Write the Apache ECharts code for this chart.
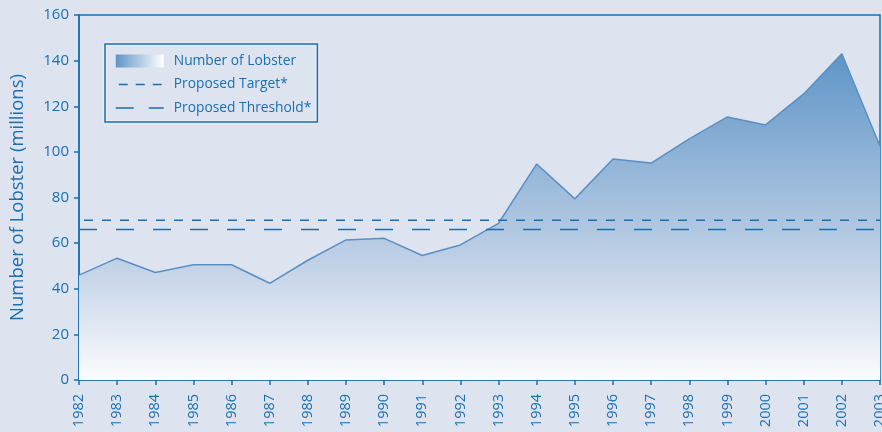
<!DOCTYPE html>
<html>
<head>
<meta charset="utf-8">
<script src="https://cdn.jsdelivr.net/npm/echarts@6/dist/echarts.min.js"></script>
<style>
  html, body { margin: 0; padding: 0; background: #dde4f0; }
  #chart { width: 882px; height: 432px; }
</style>
</head>
<body>
<div id="chart"></div>
<script>
var years = ['1982', '1983', '1984', '1985', '1986', '1987', '1988', '1989', '1990', '1991', '1992',
  '1993', '1994', '1995', '1996', '1997', '1998', '1999', '2000', '2001', '2002', '2003'];
var lobster = [46, 53.4, 47.1, 50.5, 50.5, 42.4, 52.5, 61.4, 62.1, 54.6, 59.2,
  68.7, 94.7, 79.4, 96.9, 95.1, 105.7, 115.3, 111.8, 125.4, 143, 102.5];
var targetValue = 70;
var thresholdValue = 66;
var yTicks = [0, 20, 40, 60, 80, 100, 120, 140, 160];

var blue = '#1a6fb0';
var font = 'Open Sans';

var chartDom = document.getElementById('chart');
var myChart = echarts.init(chartDom);

var lobsterFill = new echarts.graphic.LinearGradient(0, 0, 0, 1, [
  { offset: 0, color: '#5f95c7' },
  { offset: 0.65, color: '#c2d2e7' },
  { offset: 1, color: '#fbfcfe' }
]);

var option = {
  backgroundColor: '#dde4f0',
  animation: false,
  textStyle: { fontFamily: font },
  grid: {
    left: 79,
    right: 2,
    top: 15,
    bottom: 52,
    containLabel: false,
    outerBoundsMode: 'none',
    show: true,
    borderColor: blue,
    borderWidth: 1.5,
    backgroundColor: 'transparent'
  },
  legend: {
    orient: 'vertical',
    left: 105,
    top: 44,
    padding: [10, 6, 7, 10],
    itemWidth: 48,
    itemHeight: 13,
    itemGap: 9.5,
    borderColor: blue,
    borderWidth: 1.5,
    shadowColor: '#ffffff',
    shadowBlur: 3,
    textStyle: { color: blue, fontSize: 13.8, fontFamily: font, padding: [0, 0, 0, 5] },
    data: [
      {
        name: 'Number of Lobster',
        icon: 'rect',
        itemStyle: {
          color: new echarts.graphic.LinearGradient(0, 0, 1, 0, [
            { offset: 0, color: '#5f95c7' },
            { offset: 1, color: '#ffffff' }
          ])
        }
      },
      {
        name: 'Proposed Target*',
        itemStyle: { opacity: 0 },
        lineStyle: { type: [9, 8], width: 1.5, dashOffset: 14 }
      },
      {
        name: 'Proposed Threshold*',
        itemStyle: { opacity: 0 },
        lineStyle: { type: [18, 15], width: 1.5, dashOffset: 0 }
      }
    ]
  },
  xAxis: {
    type: 'category',
    data: years,
    boundaryGap: false,
    axisLine: { lineStyle: { color: blue, width: 1.5 } },
    axisTick: { show: true, length: 5, alignWithLabel: true, lineStyle: { color: blue, width: 1.5 } },
    axisLabel: {
      rotate: 90,
      color: blue,
      fontSize: 14.5,
      fontFamily: font,
      margin: 14,
      interval: 0
    },
    splitLine: { show: false }
  },
  yAxis: {
    type: 'value',
    min: 0,
    max: 160,
    interval: 20,
    name: 'Number of Lobster (millions)',
    nameLocation: 'middle',
    nameGap: 52,
    nameTextStyle: { color: blue, fontSize: 18.5, fontFamily: font },
    axisLine: { show: true, lineStyle: { color: blue, width: 1.5 } },
    axisTick: { show: true, length: 5, lineStyle: { color: blue, width: 1.5 } },
    axisLabel: {
      color: blue,
      fontSize: 15,
      fontFamily: font,
      margin: 10,
      formatter: function (v) { return yTicks.indexOf(v) >= 0 ? String(v) : ''; }
    },
    splitLine: { show: false }
  },
  series: [
    {
      name: 'Number of Lobster',
      type: 'line',
      data: lobster,
      symbol: 'none',
      z: 2,
      lineStyle: { color: '#5b8fc4', width: 1.5 },
      itemStyle: { color: '#5f95c7' },
      areaStyle: { color: lobsterFill, opacity: 1 }
    },
    {
      name: 'Proposed Target*',
      type: 'line',
      data: years.map(function () { return targetValue; }),
      symbol: 'none',
      z: 3,
      itemStyle: { color: blue },
      lineStyle: { color: blue, width: 1.5, type: [9, 9], dashOffset: -5 }
    },
    {
      name: 'Proposed Threshold*',
      type: 'line',
      data: years.map(function () { return thresholdValue; }),
      symbol: 'none',
      z: 3,
      itemStyle: { color: blue },
      lineStyle: { color: blue, width: 1.5, type: [18, 19], dashOffset: 0 }
    }
  ]
};

option && myChart.setOption(option);

window.addEventListener('resize', function () {
  myChart.resize();
});
</script>
</body>
</html>
